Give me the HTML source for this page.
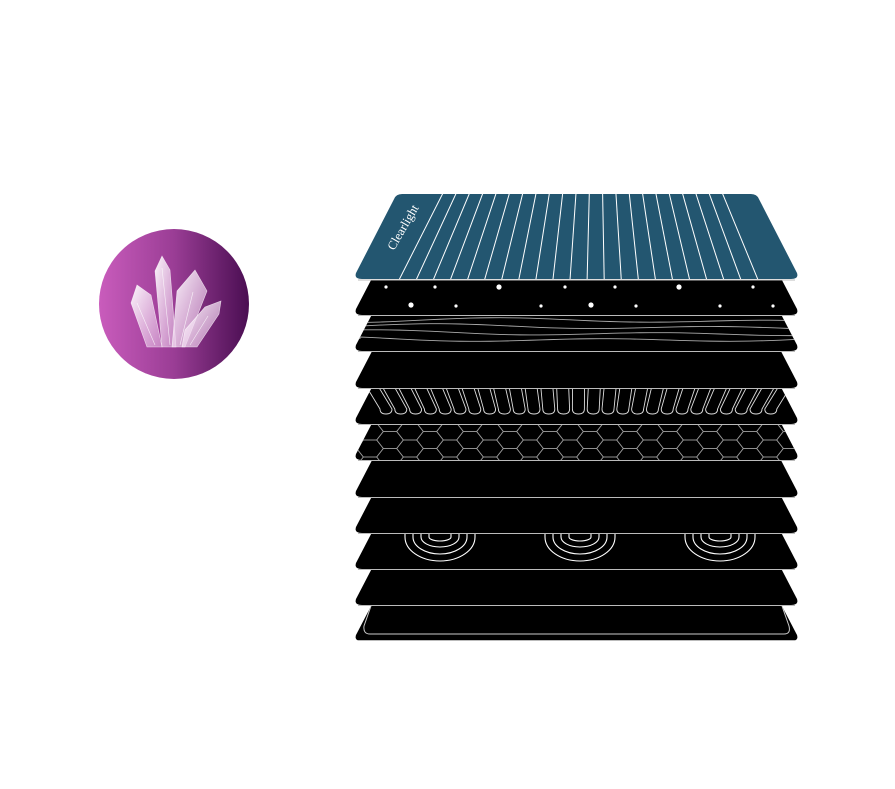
<!DOCTYPE html>
<html><head><meta charset="utf-8"><style>
html,body{margin:0;padding:0;background:#fff;}
svg{display:block;}
</style></head><body>
<svg id="s" width="895" height="789" viewBox="0 0 895 789" xmlns="http://www.w3.org/2000/svg">
<defs>
<linearGradient id="g" x1="0" x2="1" y1="0" y2="0">
<stop offset="0" stop-color="#c95cbc"/><stop offset="0.5" stop-color="#9a3d95"/><stop offset="1" stop-color="#4a0e52"/>
</linearGradient>
<linearGradient id="cg" x1="0" x2="1" y1="0" y2="1">
<stop offset="0" stop-color="#ffffff" stop-opacity="0.95"/><stop offset="1" stop-color="#e4b8e2" stop-opacity="0.55"/>
</linearGradient>
</defs>
<circle cx="174" cy="304" r="75" fill="url(#g)"/>
<g fill="url(#cg)" stroke="#fff" stroke-width="0.6" stroke-opacity="0.7">
<polygon points="131,303 137,285 151,295 162,347 147,347"/>
<polygon points="155,271 162,256 170,270 176,347 162,347"/>
<polygon points="177,291 195,270 207,291 185,347 172,347"/>
<polygon points="185,330 205,307 221,301 219,314 197,347 182,347"/>
</g>
<g stroke="#fff" stroke-width="0.6" stroke-opacity="0.8" fill="none">
<line x1="137" y1="303" x2="155" y2="345"/><line x1="162" y1="268" x2="170" y2="345"/>
<line x1="193" y1="292" x2="180" y2="345"/><line x1="208" y1="316" x2="190" y2="345"/>
</g>
<g id="layers"></g>
<text x="0" y="0" transform="translate(394,251) rotate(-60)" fill="#fff" font-family="Liberation Serif, serif" font-size="12.5">Clearlight</text>
</svg>
<script>
var NS="http://www.w3.org/2000/svg";
var G=document.getElementById('layers');
function el(n,a,p){var e=document.createElementNS(NS,n);for(var k in a)e.setAttribute(k,a[k]);(p||G).appendChild(e);return e;}
var B=[279,315,351,388,424,460,497,533,569,605,641];
var k=0.52;
function shape(T,Bt,r){
 var xL=356,xR=797;
 var lt=xL+k*(Bt-6-T), rt=xR-k*(Bt-6-T);
 var d="M"+lt+","+T+" L"+rt+","+T+" L"+xR+","+(Bt-6)+" Q"+(xR+2)+","+Bt+" "+(xR-6)+","+Bt+" L"+(xL+6)+","+Bt+" Q"+(xL-2)+","+Bt+" "+xL+","+(Bt-6)+" Z";
 if(r){
  d="M"+(lt+5)+","+T+" L"+(rt-5)+","+T+" Q"+(rt+1)+","+T+" "+(rt+3)+","+(T+5)+" L"+xR+","+(Bt-6)+" Q"+(xR+2)+","+Bt+" "+(xR-6)+","+Bt+" L"+(xL+6)+","+Bt+" Q"+(xL-2)+","+Bt+" "+xL+","+(Bt-6)+" L"+(lt-3)+","+(T+5)+" Q"+(lt-1)+","+T+" "+(lt+5)+","+T+" Z";
 }
 return d;
}
for(var i=10;i>=1;i--){
 var T=B[i-1]+1,Bt=B[i];
 var d=shape(T,Bt);
 el('path',{d:d,fill:'#000'});
 var cp=el('clipPath',{id:'c'+i});el('path',{d:d},cp);
 var g=el('g',{'clip-path':'url(#c'+i+')',stroke:'#ddd','stroke-width':1,fill:'none'});
 if(i==2){
  for(var w=0;w<4;w++){var y0=321+w*6,dd="M360,"+y0;for(var x=360;x<=800;x+=10){dd+=" L"+x+","+(y0+1.8*Math.sin(x/45+w*1.3)+1.5*Math.sin(x/110+w*0.8));}el('path',{d:dd,'stroke-width':0.9,stroke:'#aaa'},g);}
 }
 if(i==4){
  for(var j=0;j<27;j++){var xb=386+j*14.8;var xt=xb+(xb-577)*0.07;var yb=414;
   el('path',{d:"M"+(xt-6)+","+(T-2)+" L"+(xb-6)+","+(yb-5)+" Q"+(xb-6)+","+yb+" "+xb+","+yb+" Q"+(xb+6)+","+yb+" "+(xb+6)+","+(yb-5)+" L"+(xt+6)+","+(T-2),'stroke-width':0.9},g);}
 }
 if(i==5){
  var rx=13.3,ry=8.5;
  for(var row=-1;row<6;row++)for(var col=-1;col<24;col++){
   var cx=350+col*20;
   var cy=T-2+row*ry*2+(((col%2)+2)%2?ry:0);
   el('polygon',{points:(cx-rx)+","+cy+" "+(cx-rx/2)+","+(cy-ry)+" "+(cx+rx/2)+","+(cy-ry)+" "+(cx+rx)+","+cy+" "+(cx+rx/2)+","+(cy+ry)+" "+(cx-rx/2)+","+(cy+ry),'stroke-width':0.8,stroke:'#999'},g);
  }
 }
 if(i==8){
  [440,580,720].forEach(function(cx){
   [[35,24],[27,17],[19,10],[11,4]].forEach(function(r){
    el('path',{d:"M"+(cx-r[0])+","+T+" L"+(cx-r[0])+","+(T+3)+" A"+r[0]+","+r[1]+" 0 0 0 "+(cx+r[0])+","+(T+3)+" L"+(cx+r[0])+","+T,'stroke-width':1.1,stroke:'#fff'},g);
   });
  });
 }
 if(i==10){
  el('path',{d:"M371,"+(T)+" L364,626 Q363,634 370,634 L784,634 Q791,634 789,626 L782,"+T,'stroke-width':1,stroke:'#ccc'},g);
 }
 if(i==1){
  [[386,287,1.6],[435,287,1.6],[499,287,2.6],[565,287,1.6],[615,287,1.6],[679,287,2.6],[753,287,1.6],[411,305,2.6],[456,306,1.6],[541,306,1.6],[591,305,2.6],[636,306,1.6],[720,306,1.6],[773,306,1.6]].forEach(function(p){el('circle',{cx:p[0],cy:p[1],r:p[2],fill:'#fff',stroke:'none'},g);});
 }
 el('line',{x1:358,y1:Bt-0.5+(i<10?1:0),x2:795,y2:Bt-0.5+(i<10?1:0),stroke:'#bbb','stroke-width':1});
}
var d0=shape(194,279,true);
el('path',{d:d0,fill:'#235670'});
var cp0=el('clipPath',{id:'c0'});el('path',{d:d0},cp0);
var g0=el('g',{'clip-path':'url(#c0)',stroke:'#fff','stroke-width':1});
for(var j=0;j<22;j++){var xb=399+j*17.1,xt=443+j*13.3;el('line',{x1:xb,y1:280,x2:xt,y2:193},g0);}
el('line',{x1:358,y1:280,x2:795,y2:280,stroke:'#bbb','stroke-width':1});
</script>
</body></html>
